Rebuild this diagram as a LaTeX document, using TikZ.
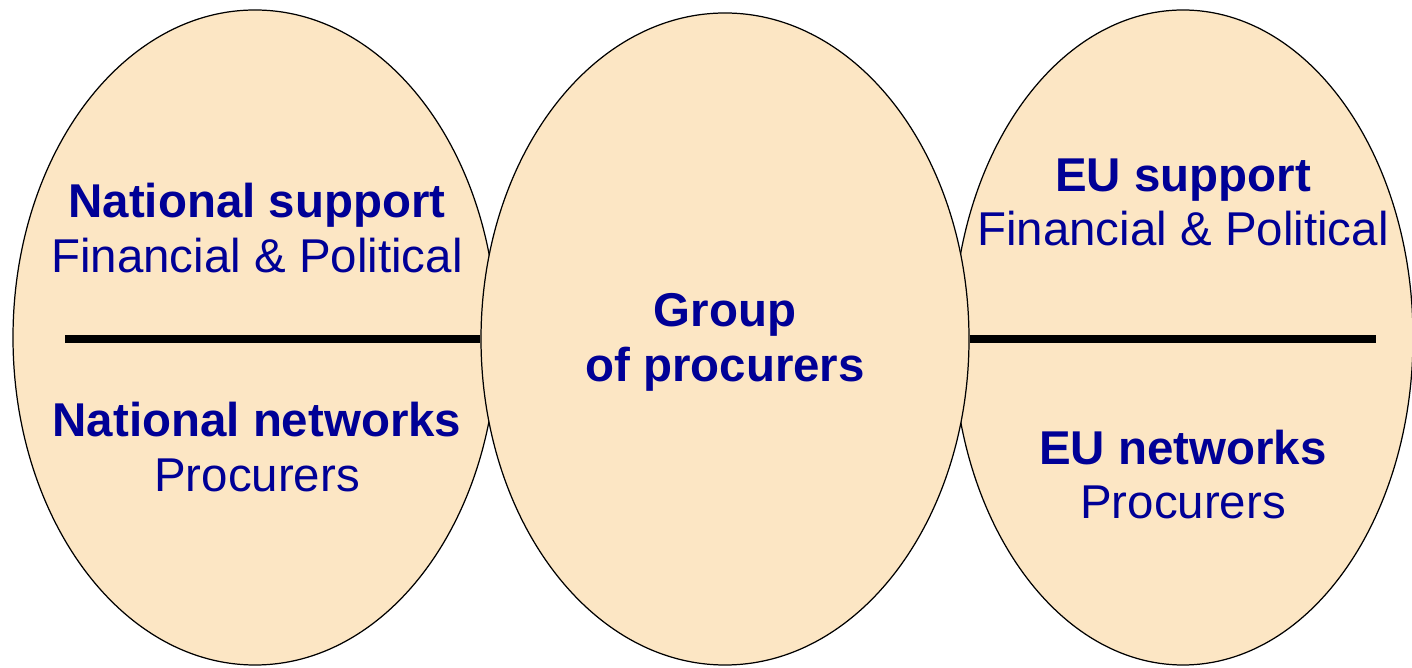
\documentclass[tikz,border=0pt]{standalone}
\usepackage{fontspec}
\setmainfont{Liberation Sans}
\usetikzlibrary{shapes.geometric}
\definecolor{peach}{RGB}{252,230,196}
\definecolor{navy}{RGB}{0,0,150}

\begin{document}
\begin{tikzpicture}[
    blob/.style={ellipse, draw, line width=0.35pt, fill=peach, inner sep=0pt},
    head/.style={anchor=base, text=navy, font=\fontsize{13.5}{15.6}\selectfont\bfseries},
    sub/.style={anchor=base, text=navy, font=\fontsize{13.5}{15.6}\selectfont},
    bar/.style={line width=2pt}
]
    \useasboundingbox (0,0) rectangle (14.12,6.67);

    % Draw the ellipses
    \node[blob, minimum width=4.84cm, minimum height=6.55cm] (natl) at (2.55,3.295) {};
    \node[blob, minimum width=4.60cm, minimum height=6.55cm] (eu) at (11.83,3.295) {};
    \node[blob, minimum width=4.88cm, minimum height=6.52cm] (grp) at (7.25,3.28) {};

    % Draw the dividing bars
    \coordinate (natlend) at (0.65,3.28);
    \coordinate (euend) at (13.76,3.28);
    \draw[bar] (natlend) -- (grp.west);
    \draw[bar] (grp.east) -- (euend);

    % Label the national side
    \node[head] (natsup) at (2.57,4.49) {National support};
    \node[sub] (natfin) at (2.57,3.94) {Financial \& Political};
    \node[head] (natnet) at (2.57,2.30) {National networks};
    \node[sub] (natproc) at (2.57,1.75) {Procurers};

    % Label the group
    \node[head] (grpa) at (7.25,3.40) {Group};
    \node[head] (grpb) at (7.25,2.85) {of procurers};

    % Label the EU side
    \node[head] (eusup) at (11.83,4.75) {EU support};
    \node[sub] (eufin) at (11.83,4.21) {Financial \& Political};
    \node[head] (eunet) at (11.83,2.02) {EU networks};
    \node[sub] (euproc) at (11.83,1.48) {Procurers};
\end{tikzpicture}
\end{document}
